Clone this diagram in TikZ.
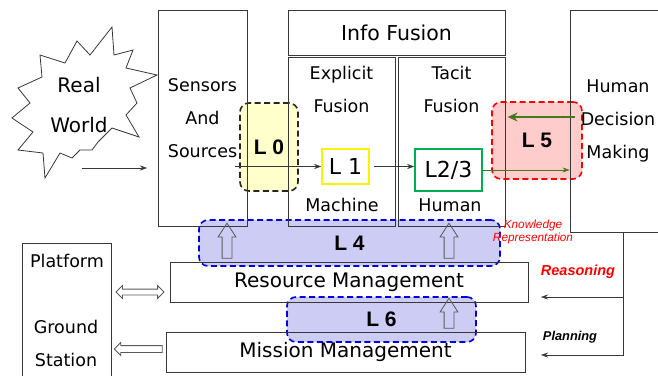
\documentclass[tikz,border=0pt]{standalone}
\usepackage{fontspec}
\setmainfont{DejaVu Sans}
\newfontfamily\arialfont{Liberation Sans}
\usetikzlibrary{arrows.meta,calc,shapes.arrows}
\definecolor{boxline}{RGB}{55,55,55}
\definecolor{lvlyellow}{RGB}{255,255,204}
\definecolor{lvlpink}{RGB}{255,204,204}
\definecolor{lvlblue}{RGB}{204,204,245}
\definecolor{lvlborder}{RGB}{0,0,225}
\definecolor{fusegreen}{RGB}{0,176,80}
\definecolor{loopgreen}{RGB}{70,120,30}
\tikzset{
  box/.style={draw=boxline,line width=0.8pt,rectangle,inner sep=0pt,align=center},
  lvl/.style={rectangle,rounded corners=9pt,dash pattern=on 6pt off 3.5pt,line width=1.6pt,
    font=\arialfont\bfseries\fontsize{21}{21}\selectfont},
  txt/.style={align=center,font=\fontsize{17.5}{33}\selectfont},
  bigtxt/.style={align=center,font=\fontsize{20}{40}\selectfont},
  hollow/.style={draw=black!65,line width=0.8pt,inner xsep=0pt},
  uparrow/.style={hollow,single arrow,rotate=90,inner ysep=4.5pt,
    single arrow head extend=4pt,single arrow tip angle=66},
  note/.style={text=red,align=center,font=\arialfont\itshape\fontsize{11.8}{13}\selectfont}
}

\begin{document}
\begin{tikzpicture}[x=1pt,y=-1pt,>={Stealth[length=7pt,width=5pt]}]
  \useasboundingbox (0,0) rectangle (658,375);

  % levels go first, the boxes are drawn over them
  \node[lvl,draw=black!85,fill=lvlyellow,minimum width=58pt,minimum height=88pt] (lzero) at (269,147) {L 0};
  \node[lvl,draw=red,fill=lvlpink,minimum width=90pt,minimum height=77pt] (lfive) at (537,140.5) {L 5};
  \node[lvl,draw=lvlborder,fill=lvlblue,minimum width=301pt,minimum height=46pt] (lfour) at (349.5,243) {L 4};
  \node[lvl,draw=lvlborder,fill=lvlblue,minimum width=189pt,minimum height=45pt] (lsix) at (381.5,319.5) {L 6};

  \draw[boxline,line width=0.8pt] (112,27) -- (114,55) -- (133,50) -- (126,68) -- (157,75) -- (130,88)
    -- (137,103) -- (126,115) -- (139,137) -- (112,128) -- (98,142) -- (92,150) -- (80,150) -- (72,158)
    -- (60,153) -- (45,178) -- (43,153) -- (18,150) -- (33,132) -- (12,118) -- (30,103) -- (18,88)
    -- (42,77) -- (40,55) -- (65,63) -- (77,41) -- (90,55) -- cycle;
  \node[bigtxt] (world) at (79,105) {Real\\World};

  \node[box,txt,minimum width=89pt,minimum height=216pt] (sensors) at (202.5,118) {Sensors\\And\\Sources};
  \node[box,minimum width=217pt,minimum height=45pt,font=\fontsize{20.5}{24}\selectfont] (fusion) at (396.5,32.5) {Info Fusion};
  \node[box,minimum width=107pt,minimum height=169pt] (explicit) at (341.5,141.5) {};
  \node[box,minimum width=107pt,minimum height=169pt] (tacit) at (451.5,141.5) {};
  \node[txt] (explab) at (341.5,89.5) {Explicit\\Fusion};
  \node[txt] (taclab) at (451.5,89.5) {Tacit\\Fusion};
  \node[txt] (machine) at (342,205) {Machine};
  \node[txt] (human) at (450,205) {Human};
  \node[box,draw=yellow,line width=1.6pt,minimum width=47pt,minimum height=35pt,font=\fontsize{22}{22}\selectfont] (lone) at (345.5,166.5) {L 1};
  \node[box,draw=fusegreen,line width=1.6pt,minimum width=67pt,minimum height=42pt,font=\fontsize{22}{22}\selectfont] (ltwo) at (448.5,170) {L2/3};
  \node[box,txt,minimum width=96pt,minimum height=222pt] (decision) at (618,121) {Human\\Decision\\Making};

  \node[box,bigtxt,minimum width=358pt,minimum height=40pt] (resmgmt) at (349,282) {Resource Management};
  \node[box,bigtxt,minimum width=359pt,minimum height=40pt] (misnmgmt) at (345.5,352) {Mission Management};
  \node[box,minimum width=89pt,minimum height=150pt] (platform) at (66.5,318) {};
  \node[txt] (platlab) at (67,261) {Platform};
  \node[txt] (groundlab) at (66,343.5) {Ground\\Station};

  \coordinate (rw) at (82,168);
  \coordinate (rwend) at (147,168);
  \coordinate (tap) at (235,166.5);
  \draw[->,boxline] (rw) -- (rwend);
  \draw[->,boxline] (tap) -- (lone.west);
  \draw[->,boxline] ($(lone.east)+(4,0)$) -- (ltwo.west |- lone.east);
  \draw[->,loopgreen] (ltwo.east) -- (ltwo.east -| decision.west);
  \draw[-{Stealth[length=10pt,width=9pt]},loopgreen,line width=1.6pt] ($(decision.west)+(5,-4)$) -- ++(-67,0);

  \coordinate (fb) at ($(decision.south)+(5,0)$);
  \coordinate (reason) at (541,297);
  \coordinate (plan) at (541,355);
  \draw[->,boxline] (fb) |- (plan);
  \draw[->,boxline] (fb |- reason) -- (reason);

  \node[uparrow,minimum height=35pt] (upone) at (227,244.5) {};
  \node[uparrow,minimum height=35pt] (uptwo) at (449,244.5) {};
  \node[uparrow,minimum height=30pt] (upthree) at (449,317) {};
  \node[hollow,double arrow,inner ysep=2.5pt,double arrow head extend=3.5pt,double arrow tip angle=90,
    minimum height=48pt] (platlink) at (140,292) {};
  \node[hollow,single arrow,rotate=180,inner ysep=3pt,single arrow head extend=3pt,single arrow tip angle=90,
    minimum height=48pt] (misnlink) at (140,349) {};

  \node[note] (kr) at (533,231.5) {Knowledge\\Representation};
  \node[text=red,font=\arialfont\bfseries\itshape\fontsize{14.5}{14.5}\selectfont] (reasonlab) at (578,272) {Reasoning};
  \node[font=\arialfont\bfseries\itshape\fontsize{12.8}{12.8}\selectfont] (planlab) at (570,337) {Planning};
\end{tikzpicture}
\end{document}
